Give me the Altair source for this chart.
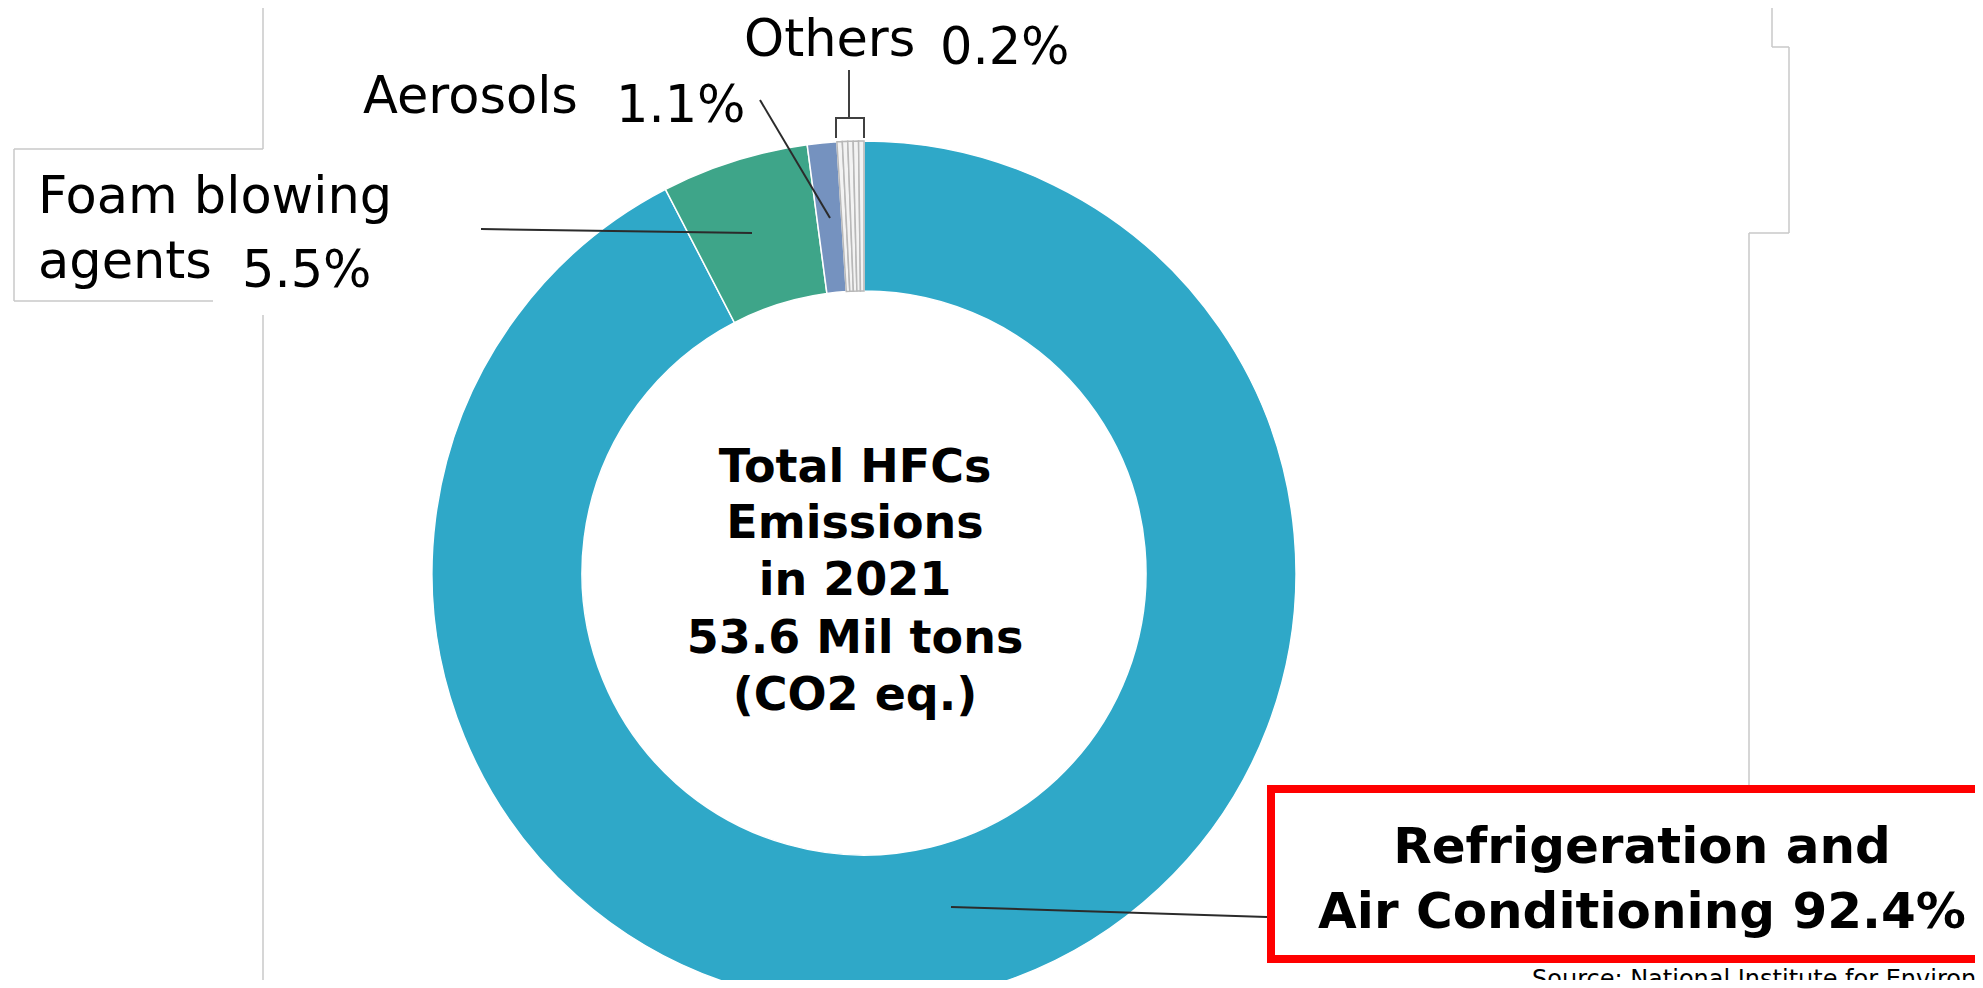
import altair as alt
import pandas as pd

# ---------------- data ----------------
categories = ["Refrigeration and Air Conditioning", "Foam blowing agents", "Aerosols", "Others"]
shares = [92.4, 5.5, 1.1]                 # main slices (%)
others_parts = [0.2, 0.2, 0.2, 0.2, 0.2]  # thin "Others" slices (%)
colors = ["#2fa8c8", "#3ea589", "#7592bf", "#f3f3f3"]

label_names = ["Foam blowing", "agents", "Aerosols", "Others"]
label_pcts = ["5.5%", "1.1%", "0.2%"]
center_lines = ["Total HFCs", "Emissions", "in 2021", "53.6 Mil tons", "(CO2 eq.)"]
box_lines = ["Refrigeration and", "Air Conditioning 92.4%"]
source_text = "Source: National Institute for Environmental Studies"

# ---------------- layout (pixel coordinates of the reference) ----------------
W, H = 1967, 972
OFF = 8
CX, CY, R_OUT, R_IN = 864, 573, 432, 282

slices = []
for i, (c, v) in enumerate(zip(categories[:3], shares)):
    slices.append({"group": c, "value": v, "idx": i})
for j, v in enumerate(others_parts):
    slices.append({"group": "Others", "value": v, "idx": 3 + j})
df = pd.DataFrame(slices)

xs = alt.Scale(domain=[OFF, OFF + W], nice=False, zero=False)
ys = alt.Scale(domain=[OFF, OFF + H], nice=False, zero=False, reverse=True)

def seg_layer(segs, color, width):
    d = pd.DataFrame(segs, columns=["x", "y", "x2", "y2"])
    return alt.Chart(d).mark_rule(color=color, strokeWidth=width, strokeCap="butt").encode(
        x=alt.X("x:Q", scale=xs, axis=None),
        y=alt.Y("y:Q", scale=ys, axis=None),
        x2="x2:Q", y2="y2:Q",
    )

def text_layer(xs_list, ys_list, texts, size, weight="normal", align="left"):
    d = pd.DataFrame({"x": xs_list, "y": ys_list, "t": texts})
    return alt.Chart(d).mark_text(
        font="DejaVu Sans", fontSize=size, fontWeight=weight, align=align,
        baseline="alphabetic", color="#000000",
    ).encode(
        x=alt.X("x:Q", scale=xs, axis=None),
        y=alt.Y("y:Q", scale=ys, axis=None),
        text="t:N",
    )

# background slide lines
frame = seg_layer([
    (263, 0, 263, 149), (14, 149, 263, 149), (14, 149, 14, 301), (14, 301, 213, 301),
    (263, 315, 263, 990),
    (1772, 0, 1772, 47), (1772, 47, 1789, 47), (1789, 47, 1789, 233),
    (1749, 233, 1789, 233), (1749, 233, 1749, 785),
], "#c8c8c8", 1.5)

donut = alt.Chart(df).mark_arc(outerRadius=R_OUT, innerRadius=R_IN, strokeWidth=1.5).encode(
    theta=alt.Theta("value:Q", stack=True),
    order=alt.Order("idx:Q"),
    color=alt.Color("group:N", scale=alt.Scale(domain=categories, range=colors), legend=None),
    stroke=alt.condition(alt.datum.group == "Others", alt.value("#b8b8b8"), alt.value("#ffffff")),
    x=alt.value(CX - OFF),
    y=alt.value(CY - OFF),
)

leaders = seg_layer([
    (481, 229, 752, 233),
    (760, 100, 830, 218),
    (951, 907, 1267, 917),
], "#2b2b2b", 2)

bracket = seg_layer([
    (849, 70, 849, 118), (835, 118, 865, 118), (836, 117, 836, 138), (864, 117, 864, 138),
], "#404040", 2)

names = text_layer([38, 38, 363, 744], [213, 278, 113, 56], label_names, 51)
pcts = text_layer([242, 616, 940], [287, 122, 64], label_pcts, 51)

center = text_layer([855] * 5, [482, 538, 595, 653, 710], center_lines, 46, weight="bold", align="center")

box_df = pd.DataFrame({"x": [1271], "y": [789], "x2": [2100], "y2": [959]})
box = alt.Chart(box_df).mark_rect(fill="#ffffff", stroke="#ff0000", strokeWidth=8).encode(
    x=alt.X("x:Q", scale=xs, axis=None),
    y=alt.Y("y:Q", scale=ys, axis=None),
    x2="x2:Q", y2="y2:Q",
)
box_text = text_layer([1642, 1642], [863, 928], box_lines, 50, weight="bold", align="center")

source = text_layer([1532], [987], [source_text], 24)

chart = alt.layer(
    frame, donut, leaders, bracket, names, pcts, center, box, box_text, source
).properties(
    width=W, height=H, padding=0, autosize=alt.AutoSizeParams(type="none"),
    background="#ffffff",
).configure_view(stroke=None)

chart.save("out.html", embed_options={"renderer": "svg", "actions": False})
